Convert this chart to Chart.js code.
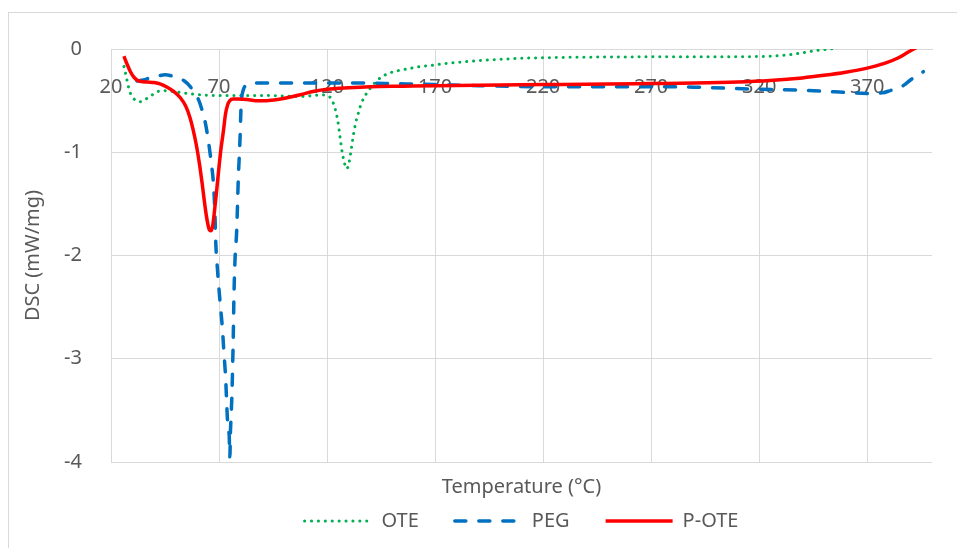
<!DOCTYPE html>
<html>
<head>
<meta charset="utf-8">
<title>DSC</title>
<script src="https://cdn.jsdelivr.net/npm/chart.js@4.4.1/dist/chart.umd.min.js"></script>
<style>
  body { margin: 0; background: #fff; }
  #wrap { width: 957px; height: 548px; }
</style>
</head>
<body>
<div id="wrap"><canvas id="dscChart"></canvas></div>
<script>
// =============== D A T A ================================
const xTicks = [20, 70, 120, 170, 220, 270, 320, 370];

const oteT = [26, 27, 28, 29, 30.5, 32, 33.5, 35.5, 37.5, 40, 42, 45, 48, 52, 57, 62, 68, 75, 80, 90, 100, 108, 114, 117, 120, 121.5, 123, 124, 125, 126, 127, 128, 129, 130, 131, 132, 133, 134.5, 136, 138, 140, 142, 144, 147, 150, 154, 158, 163, 168, 175, 183, 192, 200, 210, 220, 235, 250, 265, 280, 300, 320, 330, 336, 342, 348, 353, 360];
const oteDSC = [-0.17, -0.26, -0.36, -0.43, -0.48, -0.505, -0.51, -0.49, -0.47, -0.43, -0.41, -0.405, -0.41, -0.42, -0.435, -0.445, -0.45, -0.45, -0.45, -0.45, -0.455, -0.46, -0.45, -0.445, -0.45, -0.47, -0.53, -0.6, -0.7, -0.85, -1.0, -1.1, -1.16, -1.12, -1.0, -0.86, -0.74, -0.62, -0.52, -0.44, -0.38, -0.33, -0.29, -0.25, -0.225, -0.205, -0.19, -0.17, -0.16, -0.14, -0.125, -0.11, -0.1, -0.09, -0.085, -0.08, -0.078, -0.076, -0.075, -0.075, -0.073, -0.063, -0.05, -0.03, -0.01, 0.0, 0.03];

const pegT = [32, 35, 38, 42, 45, 48, 51, 54, 56.5, 58.5, 60.5, 62, 63.5, 64.8, 65.8, 66.7, 67.4, 68.1, 68.5, 69.3, 70.4, 71.5, 72.3, 73.1, 73.6, 74.2, 74.7, 75.0, 75.3, 75.6, 76.0, 76.3, 76.6, 76.9, 77.4, 78.2, 78.9, 79.7, 80.2, 81.2, 83, 85, 90, 100, 110, 120, 130, 140, 150, 170, 190, 220, 250, 270, 290, 320, 340, 355, 370, 377, 381, 384, 387, 390, 393, 396];
const pegDSC = [-0.31, -0.30, -0.28, -0.26, -0.25, -0.26, -0.28, -0.31, -0.36, -0.42, -0.49, -0.58, -0.70, -0.85, -1.0, -1.15, -1.30, -1.59, -1.88, -2.14, -2.43, -2.69, -2.95, -3.2, -3.46, -3.68, -3.74, -3.95, -3.7, -3.55, -3.33, -3.07, -2.78, -2.40, -2.04, -1.75, -1.27, -0.88, -0.56, -0.40, -0.35, -0.33, -0.33, -0.33, -0.33, -0.33, -0.33, -0.33, -0.335, -0.345, -0.355, -0.365, -0.365, -0.365, -0.37, -0.39, -0.40, -0.415, -0.43, -0.425, -0.40, -0.38, -0.35, -0.30, -0.26, -0.22];

const poteT = [26, 27.5, 29, 30.5, 32, 34, 37, 40, 43, 46, 49, 52, 54.5, 56.5, 58, 59.5, 61, 62.3, 63.5, 64.5, 65.5, 66.2, 67, 68, 69, 70, 71, 72, 73, 74, 75, 76.5, 79, 83, 87, 92, 97, 102, 108, 114, 120, 130, 140, 155, 170, 190, 220, 250, 270, 290, 310, 325, 340, 350, 360, 370, 378, 384, 389, 395];
const poteDSC = [-0.07, -0.15, -0.22, -0.27, -0.30, -0.315, -0.32, -0.325, -0.34, -0.37, -0.41, -0.47, -0.55, -0.66, -0.78, -0.93, -1.12, -1.32, -1.52, -1.66, -1.75, -1.76, -1.72, -1.55, -1.35, -1.14, -0.95, -0.8, -0.63, -0.54, -0.5, -0.485, -0.485, -0.49, -0.5, -0.5, -0.49, -0.47, -0.44, -0.41, -0.39, -0.375, -0.365, -0.36, -0.355, -0.35, -0.345, -0.34, -0.335, -0.33, -0.32, -0.305, -0.28, -0.255, -0.225, -0.185, -0.14, -0.09, -0.03, 0.04];

const pts = (xs, ys) => xs.map((x, i) => ({ x: x, y: ys[i] }));

// =============== F R A M E ================================
const framePlugin = {
  id: 'frame',
  beforeDraw(chart) {
    const ctx = chart.ctx;
    ctx.save();
    ctx.strokeStyle = '#d9d9d9';
    ctx.lineWidth = 1;
    ctx.strokeRect(8.5, 12.5, 1000, 1000);
    ctx.restore();
  }
};

// =============== C H A R T ================================
const FONT = 'Noto Sans';
const GREY = '#595959';
const GRID = '#d9d9d9';

// legend entries keep the dataset's dash pattern
function legendLabels(chart) {
  return chart.data.datasets.map((ds, i) => ({
    text: ds.label,
    datasetIndex: i,
    hidden: false,
    fontColor: GREY,
    fillStyle: ds.borderColor,
    strokeStyle: ds.borderColor,
    lineWidth: ds.borderWidth,
    lineDash: ds.borderDash || [],
    lineCap: ds.borderCapStyle || 'butt',
    pointStyle: 'line'
  }));
}

new Chart(document.getElementById('dscChart'), {
  type: 'line',
  data: {
    datasets: [
      {
        label: 'OTE',
        data: pts(oteT, oteDSC),
        borderColor: '#00b050',
        borderWidth: 3,
        borderDash: [0.1, 6.8],
        borderCapStyle: 'round',
        order: 3
      },
      {
        label: 'PEG',
        data: pts(pegT, pegDSC),
        borderColor: '#0070c0',
        borderWidth: 3.5,
        borderDash: [11, 13],
        borderCapStyle: 'round',
        order: 2
      },
      {
        label: 'P-OTE',
        data: pts(poteT, poteDSC),
        borderColor: '#ff0000',
        borderWidth: 3.5,
        order: 1
      }
    ]
  },
  options: {
    responsive: true,
    maintainAspectRatio: false,
    animation: false,
    events: [],
    elements: {
      point: { radius: 0 },
      line: { cubicInterpolationMode: 'monotone', fill: false }
    },
    layout: { padding: { top: 49, right: 25, left: 0, bottom: 7 } },
    plugins: {
      tooltip: { enabled: false },
      title: {
        display: true,
        text: 'Temperature (°C)',
        position: 'bottom',
        weight: 500,
        fullSize: false,
        color: GREY,
        font: { family: FONT, size: 20, weight: 'normal' },
        padding: { top: 13, bottom: -24 }
      },
      legend: {
        position: 'bottom',
        fullSize: false,
        labels: {
          usePointStyle: true,
          pointStyle: 'line',
          pointStyleWidth: 67,
          padding: 36,
          color: GREY,
          font: { family: FONT, size: 20 },
          generateLabels: legendLabels
        }
      }
    },
    scales: {
      x: {
        type: 'linear',
        position: { y: 0 },
        min: 20,
        max: 400,
        afterBuildTicks: (scale) => {
          scale.ticks = xTicks.map(v => ({ value: v }));
        },
        grid: { color: GRID, drawTicks: false },
        border: { color: GRID },
        ticks: {
          padding: 26,
          color: GREY,
          font: { family: FONT, size: 20 },
          maxRotation: 0,
          autoSkip: false
        }
      },
      y: {
        min: -4,
        max: 0,
        afterFit: (scale) => { scale.width = 111; },
        grid: { color: GRID, drawTicks: false },
        border: { color: GRID },
        ticks: {
          stepSize: 1,
          padding: 29,
          color: GREY,
          font: { family: FONT, size: 20 }
        },
        title: {
          display: true,
          text: 'DSC (mW/mg)',
          color: GREY,
          font: { family: FONT, size: 20 },
          padding: 21
        }
      }
    }
  },
  plugins: [framePlugin]
});
</script>
</body>
</html>
